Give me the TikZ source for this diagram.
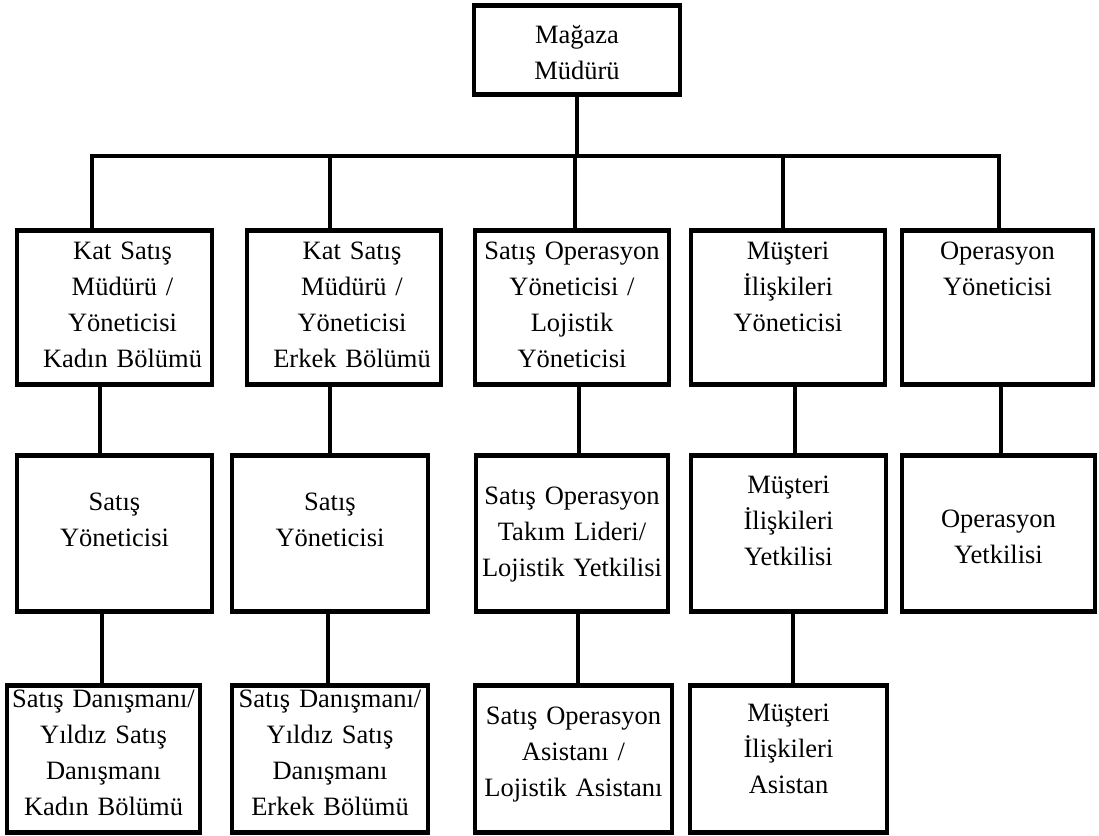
\documentclass[tikz,border=0pt]{standalone}
\usepackage{fontspec}
\setmainfont{Liberation Serif}
\tikzset{kutu/.style={draw, line width=4.5pt, inner sep=0pt, align=center, anchor=north, font=\fontsize{26.5}{36}\selectfont},
         kaydir/.style={execute at begin node={\advance\leftskip by 16pt}},
         hat/.style={line width=4pt}}

\begin{document}
\begin{tikzpicture}[x=1pt, y=-1pt]
\useasboundingbox (0,0) rectangle (1099,835);

% ust kademe
\node[kutu, text width=206pt, text height=38pt, text depth=51pt] (mm) at (577,3) {Mağaza\\Müdürü};

% birinci kademe
\node[kutu, kaydir, text width=195pt, text height=29pt, text depth=125pt] (k11) at (114.5,228) {Kat Satış\\Müdürü /\\Yöneticisi\\Kadın Bölümü};
\node[kutu, kaydir, text width=194pt, text height=29pt, text depth=125pt] (k12) at (344,228) {Kat Satış\\Müdürü /\\Yöneticisi\\Erkek Bölümü};
\node[kutu, text width=194pt, text height=29pt, text depth=125pt] (k13) at (572,228) {Satış Operasyon\\Yöneticisi /\\Lojistik\\Yöneticisi};
\node[kutu, text width=194pt, text height=29pt, text depth=125pt] (k14) at (788,228) {Müşteri\\İlişkileri\\Yöneticisi};
\node[kutu, text width=191pt, text height=29pt, text depth=125pt] (k15) at (997.5,228) {Operasyon\\Yöneticisi};

% ikinci kademe
\node[kutu, text width=195pt, text height=55pt, text depth=101pt] (k21) at (114.5,453) {Satış\\Yöneticisi};
\node[kutu, text width=196pt, text height=55pt, text depth=101pt] (k22) at (330,453) {Satış\\Yöneticisi};
\node[kutu, text width=192pt, text height=49pt, text depth=107pt] (k23) at (572,453) {Satış Operasyon\\Takım Lideri/\\Lojistik Yetkilisi};
\node[kutu, text width=195pt, text height=38pt, text depth=118pt] (k24) at (788.5,453) {Müşteri\\İlişkileri\\Yetkilisi};
\node[kutu, text width=193pt, text height=72pt, text depth=84pt] (k25) at (998.5,453) {Operasyon\\Yetkilisi};

% ucuncu kademe
\node[kutu, text width=193pt, text height=22pt, text depth=125pt] (k31) at (103.5,683) {Satış Danışmanı/\\Yıldız Satış\\Danışmanı\\Kadın Bölümü};
\node[kutu, text width=196pt, text height=22pt, text depth=125pt] (k32) at (330,683) {Satış Danışmanı/\\Yıldız Satış\\Danışmanı\\Erkek Bölümü};
\node[kutu, text width=197pt, text height=39pt, text depth=108pt] (k33) at (573.5,683) {Satış Operasyon\\Asistanı /\\Lojistik Asistanı};
\node[kutu, text width=197pt, text height=36pt, text depth=111pt] (k34) at (788.5,683) {Müşteri\\İlişkileri\\Asistan};

% baglantilar
\coordinate (bsol) at (92,156);
\coordinate (bsag) at (999,156);
\draw[hat] (mm.south) -- (mm.south |- bsol);
\draw[hat] (k11.north -| bsol) |- (bsag) -- (k15.north -| bsag);
\draw[hat] (bsol -| 330,0) -- (k12.north -| 330,0);
\draw[hat] (bsol -| 575,0) -- (k13.north -| 575,0);
\draw[hat] (bsol -| 783,0) -- (k14.north -| 783,0);

\draw[hat] (k11.south -| 100,0) -- (k21.north -| 100,0);
\draw[hat] (k12.south -| 330,0) -- (k22.north -| 330,0);
\draw[hat] (k13.south -| 579,0) -- (k23.north -| 579,0);
\draw[hat] (k14.south -| 795,0) -- (k24.north -| 795,0);
\draw[hat] (k15.south -| 1001,0) -- (k25.north -| 1001,0);

\draw[hat] (k21.south -| 102,0) -- (k31.north -| 102,0);
\draw[hat] (k22.south -| 328,0) -- (k32.north -| 328,0);
\draw[hat] (k23.south -| 578,0) -- (k33.north -| 578,0);
\draw[hat] (k24.south -| 793,0) -- (k34.north -| 793,0);
\end{tikzpicture}
\end{document}
